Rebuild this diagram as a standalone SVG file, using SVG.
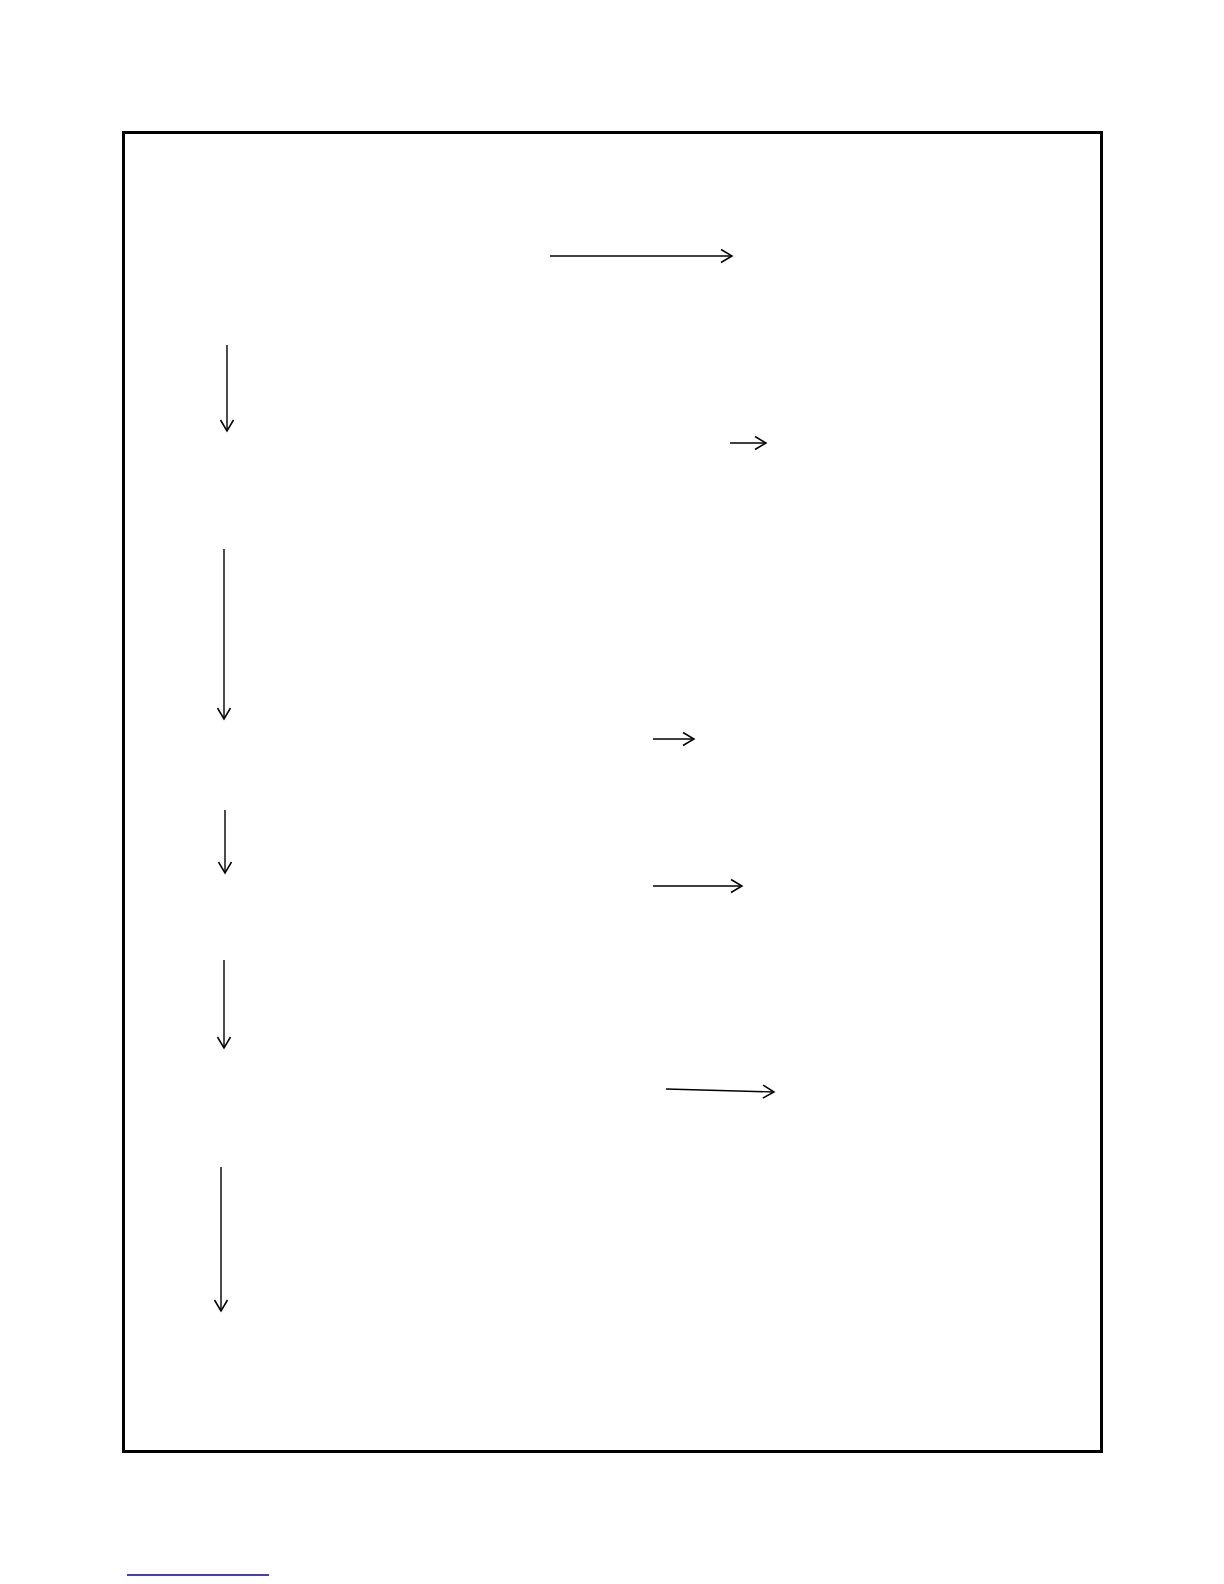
<svg xmlns="http://www.w3.org/2000/svg" width="1224" height="1584" viewBox="0 0 1224 1584">
<style>
.arr{stroke:#000;stroke-width:1.4;fill:none;marker-end:url(#ah)}
.frame{stroke:#000;stroke-width:3;fill:none}
</style>
<defs>
<marker id="ah" markerUnits="userSpaceOnUse" markerWidth="16" markerHeight="16" viewBox="-12 -8 14 16" refX="0" refY="0" orient="auto">
<path d="M-11,-6.5 L0,0 L-11,6.5" stroke="#000" stroke-width="1.5" fill="none"/>
</marker>
</defs>
<rect width="1224" height="1584" fill="#fff"/>
<g id="frame"><rect class="frame" x="123.5" y="132.5" width="978" height="1319"/></g>
<g id="connectors">
<line class="arr" x1="550" y1="256" x2="732" y2="256"/>
<line class="arr" x1="227" y1="345" x2="227" y2="431"/>
<line class="arr" x1="730" y1="443" x2="766" y2="443"/>
<line class="arr" x1="224" y1="549" x2="224" y2="719"/>
<line class="arr" x1="653" y1="739" x2="694" y2="739"/>
<line class="arr" x1="225" y1="810" x2="225" y2="873"/>
<line class="arr" x1="653" y1="886" x2="742" y2="886"/>
<line class="arr" x1="224" y1="960" x2="224" y2="1048"/>
<line class="arr" x1="666" y1="1089" x2="774" y2="1092"/>
<line class="arr" x1="221" y1="1167" x2="221" y2="1311"/>
</g>
<g id="footnote-rule"><line x1="127" y1="1575" x2="269" y2="1575" stroke="#0000a0" stroke-width="1.5"/></g>
</svg>
